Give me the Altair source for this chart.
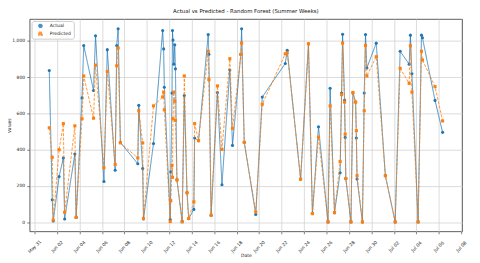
import altair as alt
import pandas as pd

dates = [
    "2024-06-01T07:30", "2024-06-01T13:50", "2024-06-01T16:00", "2024-06-02T04:30", "2024-06-02T13:35",
    "2024-06-02T16:20", "2024-06-03T14:10", "2024-06-03T16:55", "2024-06-04T05:30", "2024-06-04T09:05",
    "2024-06-05T06:05", "2024-06-05T10:20", "2024-06-06T04:20", "2024-06-06T11:30", "2024-06-07T04:20",
    "2024-06-07T07:40", "2024-06-07T10:40", "2024-06-07T15:30", "2024-06-09T04:40", "2024-06-09T06:45",
    "2024-06-09T15:10", "2024-06-09T16:50", "2024-06-10T14:15", "2024-06-11T09:50", "2024-06-11T11:55",
    "2024-06-11T13:25", "2024-06-12T02:00", "2024-06-12T03:15", "2024-06-12T05:50", "2024-06-12T06:50",
    "2024-06-12T07:55", "2024-06-12T09:35", "2024-06-12T11:40", "2024-06-12T13:10", "2024-06-12T16:20",
    "2024-06-13T03:30", "2024-06-13T08:05", "2024-06-13T13:55", "2024-06-13T17:30", "2024-06-14T04:30",
    "2024-06-14T06:10", "2024-06-14T14:30", "2024-06-15T11:10", "2024-06-15T12:35", "2024-06-15T17:25",
    "2024-06-16T06:55", "2024-06-16T16:35", "2024-06-17T09:25", "2024-06-17T15:05", "2024-06-18T08:55",
    "2024-06-18T10:35", "2024-06-18T16:15", "2024-06-19T16:50", "2024-06-20T06:45", "2024-06-22T07:55",
    "2024-06-22T12:05", "2024-06-23T16:40", "2024-06-24T09:30", "2024-06-24T17:55", "2024-06-25T06:55",
    "2024-06-26T03:20", "2024-06-26T07:45", "2024-06-26T17:10", "2024-06-27T05:10", "2024-06-27T08:20",
    "2024-06-27T10:25", "2024-06-27T14:40", "2024-06-27T15:55", "2024-06-27T17:20", "2024-06-28T04:20",
    "2024-06-28T08:30", "2024-06-28T14:20", "2024-06-28T15:50", "2024-06-28T17:20", "2024-06-29T04:50",
    "2024-06-29T08:40", "2024-06-29T11:25", "2024-06-29T14:20", "2024-06-30T10:20", "2024-07-01T05:50",
    "2024-07-02T02:50", "2024-07-02T13:25", "2024-07-03T08:40", "2024-07-03T11:25", "2024-07-03T14:35",
    "2024-07-04T03:50", "2024-07-04T11:00", "2024-07-04T13:05", "2024-07-05T16:00", "2024-07-06T08:10",
]

actual = [
    837, 124, 7, 252, 355, 18, 376, 28, 686, 975,
    727, 1028, 225, 952, 287, 975, 1067, 440, 323, 645,
    296, 18, 434, 1058, 956, 745, 15, 278, 713, 1058,
    1005, 872, 979, 846, 234, 5, 699, 163, 20, 71,
    465, 450, 1035, 926, 39, 716, 207, 840, 424, 926,
    1067, 441, 43, 691, 876, 949, 238, 984, 48, 527,
    2, 739, 53, 273, 713, 1037, 674, 468, 241, 2,
    713, 663, 465, 239, 2, 713, 1035, 851, 988, 257,
    2, 943, 872, 1032, 819, 2, 1032, 1018, 672, 496,
]

predicted = [
    521, 358, 12, 400, 544, 55, 532, 27, 571, 807,
    574, 867, 301, 832, 319, 863, 961, 438, 355, 615,
    438, 21, 642, 691, 718, 620, 4, 119, 314, 248,
    571, 718, 668, 562, 234, 2, 807, 163, 21, 113,
    544, 450, 943, 787, 39, 752, 402, 902, 518, 926,
    988, 441, 57, 651, 929, 935, 238, 984, 48, 470,
    2, 642, 53, 335, 704, 988, 663, 486, 241, 2,
    716, 663, 505, 257, 2, 615, 975, 807, 913, 257,
    2, 849, 766, 973, 718, 2, 943, 895, 748, 559,
]

series_names = ["Actual", "Predicted"]
series_colors = ["#1f77b4", "#ff7f0e"]
series_shapes = ["circle", "square"]
series_dashes = [[1, 0], [3, 1.5]]

tick_month_days = [(5, 31), (6, 2), (6, 4), (6, 6), (6, 8), (6, 10), (6, 12), (6, 14), (6, 16),
                   (6, 18), (6, 20), (6, 22), (6, 24), (6, 26), (6, 28), (6, 30), (7, 2), (7, 4),
                   (7, 6), (7, 8)]
y_ticks = [0, 200, 400, 600, 800, 1000]

rows = []
for d, a, p in zip(dates, actual, predicted):
    rows.append({"Date": d, "Value": a, "Series": "Actual"})
    rows.append({"Date": d, "Value": p, "Series": "Predicted"})
df = pd.DataFrame(rows)

tick_vals = [alt.DateTime(year=2024, month=m, date=d) for m, d in tick_month_days]

x_enc = alt.X(
    "Date:T", title="Date",
    scale=alt.Scale(domain=[alt.DateTime(year=2024, month=5, date=30, hours=13, minutes=30),
                            alt.DateTime(year=2024, month=7, date=8, hours=2)]),
    axis=alt.Axis(values=tick_vals, format="%b %d", labelAngle=315, labelAlign="center",
                  labelBaseline="middle", labelPadding=13, tickSize=2.5, labelOverlap=False,
                  labelFlush=False, titleX=220, titleY=25, titleBaseline="middle"),
)
y_enc = alt.Y(
    "Value:Q", title="Values",
    scale=alt.Scale(domain=[-50, 1121], nice=False, zero=False),
    axis=alt.Axis(values=y_ticks, tickSize=3, labelPadding=2, titleX=-20, titleY=108,
                  titleBaseline="middle", titleAlign="center"),
)
leg = alt.Legend(title=None)
color_enc = alt.Color("Series:N", scale=alt.Scale(domain=series_names, range=series_colors), legend=leg)
shape_enc = alt.Shape("Series:N", scale=alt.Scale(domain=series_names, range=series_shapes), legend=leg)
dash_enc = alt.StrokeDash("Series:N", scale=alt.Scale(domain=series_names, range=series_dashes), legend=None)

base = alt.Chart(df).encode(x=x_enc, y=y_enc, color=color_enc)

layers = []
for name in series_names:
    sub = base.transform_filter(alt.datum.Series == name)
    layers.append(sub.mark_line(strokeWidth=1, opacity=0.8).encode(strokeDash=dash_enc))
    layers.append(sub.mark_point(filled=True, size=10, opacity=1).encode(shape=shape_enc))

chart = alt.layer(*layers).properties(
    width=440, height=216,
    title=alt.TitleParams("Actual vs Predicted - Random Forest (Summer Weeks)", fontSize=5.5,
                          font="DejaVu Sans", fontWeight="normal", color="#111", offset=0.5,
                          anchor="middle", baseline="alphabetic"),
    autosize=alt.AutoSizeParams(type="none"),
    padding={"left": 22, "top": 9, "right": 10, "bottom": 30},
).configure_view(
    stroke="#333", strokeWidth=0.8
).configure_axis(
    domain=False, grid=True, gridColor="#d3d3d3", gridWidth=0.8,
    tickColor="#333", tickWidth=0.6,
    labelFont="DejaVu Sans", labelFontSize=4.6, labelColor="#222",
    titleFont="DejaVu Sans", titleFontSize=4.6, titleFontWeight="normal", titleColor="#222",
).configure_legend(
    orient="top-left", offset=2, padding=2.5, fillColor="white", strokeColor="#cccccc",
    cornerRadius=2, labelFont="DejaVu Sans", labelFontSize=4.6, labelColor="#222",
    symbolSize=10, rowPadding=2, labelOffset=7, symbolOffset=4, clipHeight=5,
)

chart.save("out.html", embed_options={"renderer": "svg", "actions": False})
